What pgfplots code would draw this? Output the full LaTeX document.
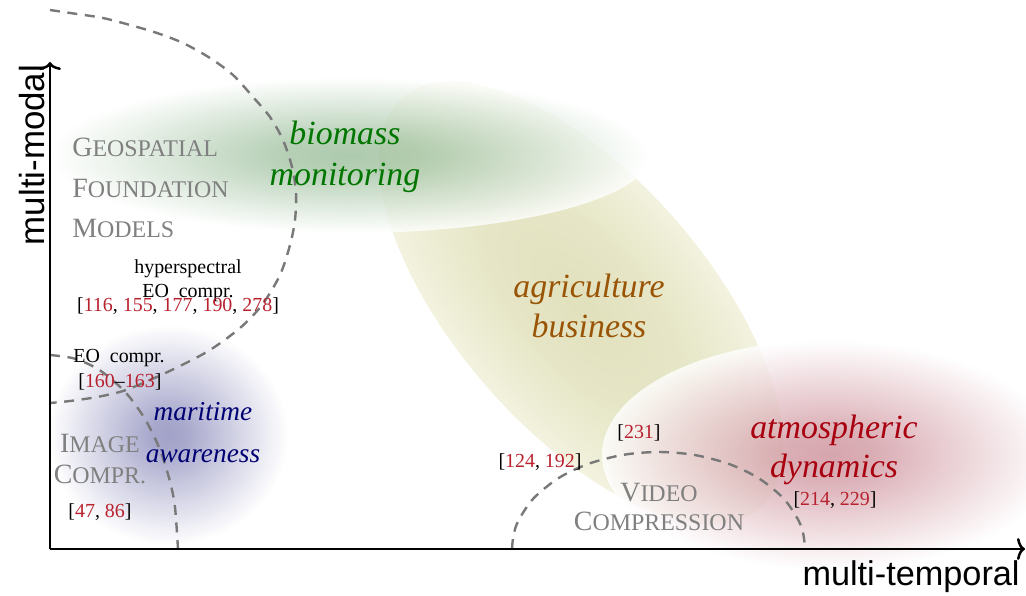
\documentclass[border=0pt]{standalone}
\usepackage{pgfplots}
\pgfplotsset{compat=1.18}
\usetikzlibrary{arrows.meta}
\usepackage{fontspec}
\setmainfont{Liberation Serif}
\setsansfont{Liberation Sans}

\definecolor{gC}{rgb}{0.6,0.74,0.6}
\definecolor{rC}{rgb}{0.8,0.56,0.6}
\definecolor{bC}{rgb}{0.57,0.57,0.75}
\definecolor{yC}{rgb}{0.88,0.88,0.74}
\definecolor{yM}{rgb}{0.905,0.905,0.785}
\definecolor{yE}{rgb}{0.95,0.95,0.875}
\definecolor{citred}{rgb}{0.72,0.13,0.18}
\definecolor{labgreen}{rgb}{0.0,0.46,0.0}
\definecolor{labbrown}{rgb}{0.6,0.33,0.02}
\definecolor{labred}{rgb}{0.66,0.0,0.06}
\definecolor{labblue}{rgb}{0.0,0.0,0.45}
\definecolor{dashgray}{rgb}{0.47,0.47,0.47}
\definecolor{scgray}{rgb}{0.5,0.5,0.5}

% the edge of the filled ellipse lies at 25bp of the shading
\pgfdeclareradialshading{gblob}{\pgfpoint{0bp}{0bp}}{color(0bp)=(gC); color(6bp)=(gC!88!white); color(25bp)=(white); color(50bp)=(white)}
\pgfdeclareradialshading{rblob}{\pgfpoint{0bp}{0bp}}{color(0bp)=(rC); color(5bp)=(rC!90!white); color(25bp)=(white); color(50bp)=(white)}
\pgfdeclareradialshading{bblob}{\pgfpoint{0bp}{0bp}}{color(0bp)=(bC); color(4bp)=(bC!92!white); color(25bp)=(white); color(50bp)=(white)}
\pgfdeclareradialshading{yblob}{\pgfpoint{0bp}{0bp}}{color(0bp)=(yC); color(13bp)=(yM); color(25bp)=(yE); color(50bp)=(yE)}

\newcommand{\cit}[1]{\textcolor{citred}{#1}}
\newcommand{\fsc}[2]{{\fontsize{14}{16}\selectfont #1}{\fontsize{12}{13}\selectfont #2}}

\tikzset{
  lab/.style={inner sep=0pt, anchor=base, font=\fontsize{17}{20}\selectfont\itshape},
  labs/.style={inner sep=0pt, anchor=base, font=\fontsize{13.7}{16}\selectfont\itshape},
  ref/.style={inner sep=0pt, anchor=base, font=\fontsize{10}{12}\selectfont},
  sc/.style={inner sep=0pt, text=scgray},
}
\pgfplotsset{
  dashcurve/.style={draw=dashgray, line width=1.2bp, dash pattern=on 5bp off 3.8bp, mark=none, smooth},
}

\begin{document}
\begin{tikzpicture}
\begin{axis}[
  scale only axis, width=513bp, height=298bp,
  xmin=0, xmax=1026, ymin=0, ymax=596, y dir=reverse,
  hide axis, clip=false,
]
% ---- soft regions ----
\begin{scope}[transform canvas={shift={(axis cs:581,303)}, rotate=-49}]
  \shade[shading=yblob] (0bp,0bp) ellipse [x radius=136bp, y radius=63bp];
\end{scope}
\shade[shading=gblob, opacity=0.8] (axis cs:350,155) ellipse [x radius=150bp, y radius=39bp];
\shade[shading=rblob, opacity=0.8] (axis cs:830,455) ellipse [x radius=114bp, y radius=57.5bp];
\shade[shading=bblob, opacity=0.85] (axis cs:168,435) ellipse [x radius=60bp, y radius=55bp];

% ---- dashed boundaries ----
\addplot[dashcurve] coordinates {
 (50,10) (77,14) (103,18) (130,25) (157,33) (183,43) (210,58) (233,75)
 (253,97) (270,117) (283,140) (292,167) (296,193) (295,220) (290,245)
 (280,275) (262,305) (240,328) (210,350) (180,366) (150,380) (123,391)
 (97,397) (70,401) (50,403)};
\addplot[dashcurve] coordinates {
 (50,355) (75,358.7) (100,370.4) (125,391.8) (145,419) (160,449.8)
 (170,481.5) (175,507.3) (178,549)};
\addplot[dashcurve] coordinates {
 (512,549) (513.5,535.2) (518.5,520.4) (533.5,498.4) (558.5,478.1)
 (588.5,463.8) (623.5,454.8) (658.5,452) (693.5,454.8) (728.5,463.8)
 (758.5,478.1) (783.5,498.4) (798.5,520.4) (803.5,535.2) (805,549)};

% ---- axes ----
\draw[line width=1.25bp, -{To[length=4bp,width=11bp]}] (axis cs:50,549) -- (axis cs:50,62);
\draw[line width=1.25bp, -{To[length=4bp,width=11bp]}] (axis cs:50,549) -- (axis cs:1025,549);
\node[inner sep=0pt, anchor=base, rotate=90, font=\sffamily\fontsize{17.5}{20}\selectfont] at (axis cs:44,155) {multi-modal};
\node[inner sep=0pt, anchor=base east, font=\sffamily\fontsize{17.2}{20}\selectfont] at (axis cs:1020,585) {multi-temporal};

% ---- gray small-caps labels ----
\node[sc, anchor=base west] at (axis cs:72,157) {\fsc{G}{EOSPATIAL}};
\node[sc, anchor=base west] at (axis cs:72,197) {\fsc{F}{OUNDATION}};
\node[sc, anchor=base west] at (axis cs:72,237) {\fsc{M}{ODELS}};
\node[sc, anchor=base] at (axis cs:100,452) {\fsc{I}{MAGE}};
\node[sc, anchor=base] at (axis cs:100,483) {\fsc{C}{OMPR.}};
\node[sc, anchor=base] at (axis cs:659,501) {\fsc{V}{IDEO}};
\node[sc, anchor=base] at (axis cs:659,530) {\fsc{C}{OMPRESSION}};

% ---- coloured italic labels ----
\node[lab, text=labgreen] at (axis cs:345,145) {biomass};
\node[lab, text=labgreen] at (axis cs:345,185) {monitoring};
\node[lab, text=labbrown] at (axis cs:589,297) {agriculture};
\node[lab, text=labbrown] at (axis cs:589,337) {business};
\node[lab, text=labred] at (axis cs:834,438) {atmospheric};
\node[lab, text=labred] at (axis cs:834,477) {dynamics};
\node[labs, text=labblue] at (axis cs:203,420) {maritime};
\node[labs, text=labblue] at (axis cs:203,462) {awareness};

% ---- small black labels and references ----
\node[ref] at (axis cs:188,273) {hyperspectral};
\node[ref] at (axis cs:188,297) {EO\ \ compr.};
\node[ref] at (axis cs:178,311) {[\cit{116}, \cit{155}, \cit{177}, \cit{190}, \cit{278}]};
\node[ref, anchor=base west] at (axis cs:73,362) {EO\ \ compr.};
\node[ref, anchor=base west] at (axis cs:78,387) {[\cit{160}--\cit{163}]};
\node[ref] at (axis cs:100,517) {[\cit{47}, \cit{86}]};
\node[ref] at (axis cs:639,438) {[\cit{231}]};
\node[ref] at (axis cs:540,467) {[\cit{124}, \cit{192}]};
\node[ref] at (axis cs:835,505) {[\cit{214}, \cit{229}]};
\end{axis}
\pgfresetboundingbox
\path[use as bounding box] (current axis.south west) rectangle (current axis.north east);
\end{tikzpicture}
\end{document}
